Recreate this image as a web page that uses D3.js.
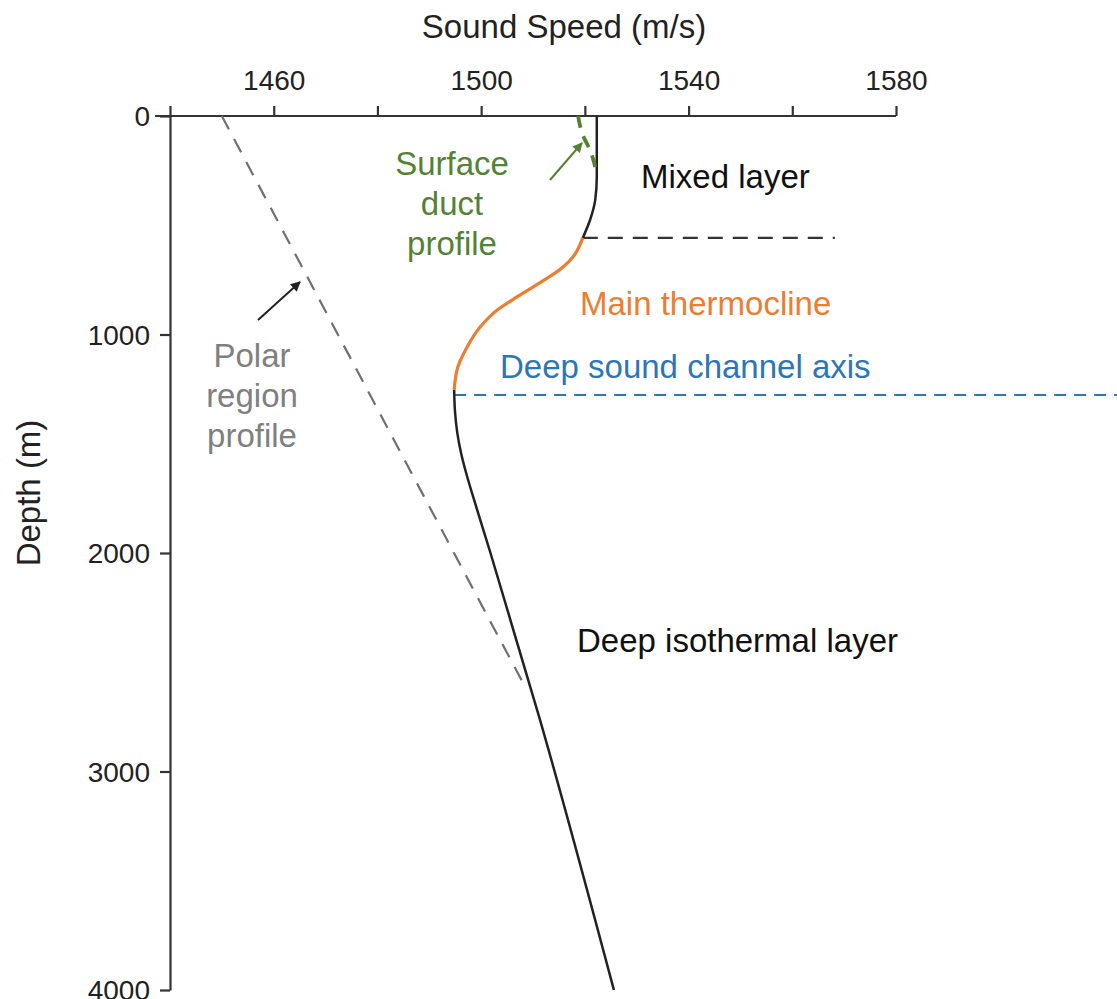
<!DOCTYPE html>
<html>
<head>
<meta charset="utf-8">
<script src="https://cdn.jsdelivr.net/npm/d3@7"></script>
<style>
body { margin: 0; background: #fff; }
text { font-family: "Liberation Sans", Arial, sans-serif; }
</style>
</head>
<body>
<div class="content"></div>
<script>
// speed (m/s) / depth (m)
var mixedSpeed = [1522.3, 1522.3, 1522.0, 1521.0, 1519.6];
var mixedDepth = [0, 279, 384, 476, 558];
var thermoSpeed = [1519.6, 1517.7, 1515.8, 1511.3, 1506.9, 1503.1, 1499.8, 1497.3, 1495.5, 1494.8];
var thermoDepth = [558, 645, 691, 764, 828, 888, 966, 1057, 1149, 1254];
var deepSpeed = [1494.8, 1494.95, 1495.4, 1496.2, 1497.3, 1499.2, 1501.8, 1511.2, 1525.6];
var deepDepth = [1254, 1350, 1450, 1550, 1650, 1800, 2000, 2751, 4000];
var ductSpeed = [1518.7, 1519.6, 1521.0, 1522.0];
var ductDepth = [0, 87, 156, 233];
var polarSpeed = [1450.0, 1508.8];
var polarDepth = [0, 2627];
var mixedBottom = 558, mixedEnd = 1568.2;
var channelAxis = 1277, channelEnd = 1623;

var xTicks = [1440, 1460, 1480, 1500, 1520, 1540, 1560, 1580];
var xLabels = [1460, 1500, 1540, 1580];
var yTicks = [0, 1000, 2000, 3000, 4000];

function LineChart(){
var width = 1117;
var height = 999;
var svg = d3.select(".content").append("svg").attr("width", width).attr("height", height);

var x = d3.scaleLinear().domain([1440, 1580]).range([170, 896]);
var y = d3.scaleLinear().domain([0, 4000]).range([116, 990]);

function pts(s, d){ return s.map(function(v, i){ return [v, d[i]]; }); }
var line = d3.line().x(function(d){ return x(d[0]); }).y(function(d){ return y(d[1]); }).curve(d3.curveMonotoneY);

// arrow heads
var defs = svg.append("defs");
[["ag", "#548235"], ["ak", "#222"]].forEach(function(m){
	defs.append("marker").attr("id", m[0]).attr("viewBox", "0 0 10 10").attr("refX", 9).attr("refY", 5)
	.attr("markerWidth", 6).attr("markerHeight", 5).attr("markerUnits", "strokeWidth").attr("orient", "auto")
	.append("path").attr("d", "M0,0L10,5L0,10z").attr("fill", m[1]);
});

// axes
var xa = svg.append("g").attr("transform", "translate(0," + y(0) + ")")
	.call(d3.axisTop(x).tickValues(xTicks).tickSize(10).tickSizeOuter(0).tickPadding(16)
	.tickFormat(function(d){ return xLabels.indexOf(d) >= 0 ? d : ""; }));
xa.select(".domain").attr("d", "M155,0H" + x(1580));
var ya = svg.append("g").attr("transform", "translate(" + x(1440) + ",0)")
	.call(d3.axisLeft(y).tickValues(yTicks).tickSize(10).tickSizeOuter(0).tickPadding(10).tickFormat(d3.format("d")));
[xa, ya].forEach(function(a){
	a.selectAll("path,line").attr("stroke", "#333").attr("stroke-width", 2.2);
	a.selectAll("text").attr("font-size", 28).attr("fill", "#222").attr("font-family", "Liberation Sans, Arial, sans-serif");
});
ya.selectAll(".tick text").attr("dy", "0.35em");

svg.append("text").attr("x", 564).attr("y", 38).attr("text-anchor", "middle").attr("font-size", 33).attr("fill", "#222").text("Sound Speed (m/s)");
svg.append("text").attr("transform", "translate(40,493) rotate(-90)").attr("text-anchor", "middle").attr("font-size", 33).attr("fill", "#222").text("Depth (m)");

// reference lines
svg.append("path").attr("d", "M" + x(mixedSpeed[4]) + "," + y(mixedBottom) + "H" + x(mixedEnd))
	.attr("stroke", "#333").attr("stroke-width", 2.2).attr("stroke-dasharray", "15,10").attr("fill", "none");
svg.append("path").attr("d", "M" + x(thermoSpeed[9]) + "," + y(channelAxis) + "H" + x(channelEnd))
	.attr("stroke", "#2e75b6").attr("stroke-width", 2.2).attr("stroke-dasharray", "12,8").attr("fill", "none");

// profiles
svg.append("path").datum(pts(polarSpeed, polarDepth)).attr("d", line)
	.attr("stroke", "#707070").attr("stroke-width", 2.2).attr("stroke-dasharray", "15,11").attr("fill", "none");
svg.append("path").datum(pts(mixedSpeed, mixedDepth)).attr("d", line).attr("stroke", "#222").attr("stroke-width", 2.5).attr("fill", "none");
svg.append("path").datum(pts(deepSpeed, deepDepth)).attr("d", line).attr("stroke", "#222").attr("stroke-width", 2.5).attr("fill", "none");
svg.append("path").datum(pts(thermoSpeed, thermoDepth)).attr("d", line).attr("stroke", "#ed7d31").attr("stroke-width", 3.2).attr("fill", "none");
svg.append("path").datum(pts(ductSpeed, ductDepth)).attr("d", line).attr("stroke", "#548235").attr("stroke-width", 3.8).attr("stroke-dasharray", "12,9").attr("fill", "none");

// pointer arrows
svg.append("line").attr("x1", 550).attr("y1", 180).attr("x2", 582).attr("y2", 143).attr("stroke", "#548235").attr("stroke-width", 2).attr("marker-end", "url(#ag)");
svg.append("line").attr("x1", 258).attr("y1", 320).attr("x2", 300).attr("y2", 282).attr("stroke", "#222").attr("stroke-width", 2).attr("marker-end", "url(#ak)");

// annotations
function label(lines, cx, cy, anchor, color){
	var t = svg.append("text").attr("font-size", 33).attr("fill", color).attr("text-anchor", anchor);
	lines.forEach(function(s, i){
		t.append("tspan").attr("x", cx).attr("y", cy + i * 40).attr("dy", "0.35em").text(s);
	});
}
label(["Surface", "duct", "profile"], 452, 163, "middle", "#548235");
label(["Mixed layer"], 641, 176, "start", "#111");
label(["Main thermocline"], 580, 303, "start", "#ed7d31");
label(["Deep sound channel axis"], 500, 366, "start", "#2e75b6");
label(["Polar", "region", "profile"], 252, 355, "middle", "#808080");
label(["Deep isothermal layer"], 577, 640, "start", "#111");
}
LineChart();
</script>
</body>
</html>
